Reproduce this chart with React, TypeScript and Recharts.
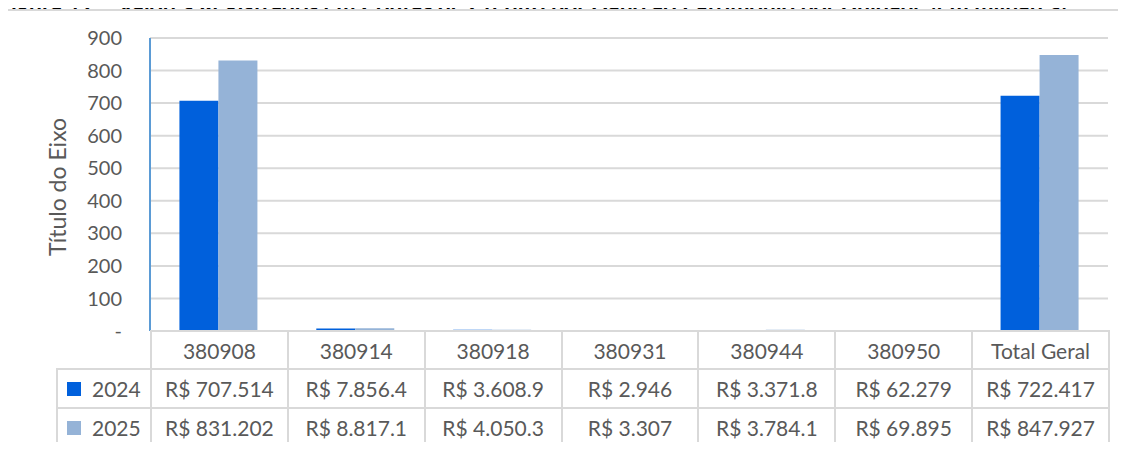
import React from "react";
import {
  BarChart,
  Bar,
  XAxis,
  YAxis,
  CartesianGrid,
} from "recharts";

const units = ["380908", "380914", "380918", "380931", "380944", "380950", "Total Geral"];

// valores em milhares de R$
const v2024 = [707.514, 7.8564, 3.6089, 0.002946, 3.3718, 0.062279, 722.417];
const v2025 = [831.202, 8.8171, 4.0503, 0.003307, 3.7841, 0.069895, 847.927];

const labels2024 = ["R$ 707.514", "R$ 7.856.4", "R$ 3.608.9", "R$ 2.946", "R$ 3.371.8", "R$ 62.279", "R$ 722.417"];
const labels2025 = ["R$ 831.202", "R$ 8.817.1", "R$ 4.050.3", "R$ 3.307", "R$ 3.784.1", "R$ 69.895", "R$ 847.927"];

const yTicks = [0, 100, 200, 300, 400, 500, 600, 700, 800, 900];

const C2024 = "#0060DC";
const C2025 = "#95B3D7";
const GRID = "#D9D9D9";
const TEXT = "#595959";
const FONT = "Lato, 'Open Sans', sans-serif";

const data = units.map((name, i) => ({ name, a2024: v2024[i], a2025: v2025[i] }));

const PLOT_L = 150;
const PLOT_R = 1108;
const COL_W = (PLOT_R - PLOT_L) / units.length;

const cell: React.CSSProperties = {
  position: "absolute",
  boxSizing: "border-box",
  border: `2px solid ${GRID}`,
  display: "flex",
  alignItems: "center",
  justifyContent: "center",
  fontFamily: FONT,
  fontSize: 21,
  color: TEXT,
  background: "#fff",
};

export default function App() {
  const rows = [
    { year: "2024", color: C2024, labels: labels2024, top: 368 },
    { year: "2025", color: C2025, labels: labels2025, top: 407 },
  ];
  return (
    <div style={{ position: "relative", width: 1126, height: 450, margin: -8, overflow: "hidden", background: "#fff" }}>
      {/* título cortado no topo */}
      <div
        style={{
          position: "absolute",
          left: -2,
          top: -6,
          lineHeight: "22px",
          whiteSpace: "nowrap",
          fontFamily: FONT,
          fontWeight: 700,
          fontSize: 23,
          color: "#000",
        }}
      >
        Figura 12 – Valores Registrados em Contas de Crédito por Dano ao Patrimônio por Unidade (em milhares)
      </div>
      <div
        style={{
          position: "absolute",
          left: 6,
          top: 9,
          width: 1140,
          height: 460,
          border: `2px solid ${GRID}`,
          boxSizing: "border-box",
          background: "#fff",
        }}
      />
      <div style={{ position: "absolute", left: 0, top: 0 }}>
        <BarChart
          width={1126}
          height={450}
          data={data}
          margin={{ top: 38, right: 1126 - PLOT_R, bottom: 450 - 331, left: 50 }}
          barCategoryGap="21.5%"
          barGap={0}
        >
          <CartesianGrid vertical={false} stroke={GRID} strokeWidth={2} />
          <XAxis dataKey="name" hide />
          <YAxis
            width={100}
            domain={[0, 900]}
            ticks={yTicks}
            interval={0}
            tickLine={false}
            axisLine={{ stroke: "#5B9BD5", strokeWidth: 2 }}
            tickFormatter={(v: number) => (v === 0 ? "-" : String(v))}
            tick={{ fill: TEXT, fontSize: 20, fontFamily: FONT }}
            tickMargin={22}
          />
          <Bar dataKey="a2024" fill={C2024} isAnimationActive={false} />
          <Bar dataKey="a2025" fill={C2025} isAnimationActive={false} />
        </BarChart>
      </div>
      {/* título do eixo */}
      <div
        style={{
          position: "absolute",
          left: 57,
          top: 187,
          transform: "translate(-50%, -50%) rotate(-90deg)",
          whiteSpace: "nowrap",
          fontFamily: FONT,
          fontSize: 23,
          color: TEXT,
        }}
      >
        Título do Eixo
      </div>
      {/* tabela de dados */}
      {units.map((u, i) => (
        <div key={u} style={{ ...cell, left: PLOT_L + i * COL_W, top: 330, width: COL_W + 2, height: 40 }}>
          {u}
        </div>
      ))}
      {rows.map((r) => (
        <React.Fragment key={r.year}>
          <div style={{ ...cell, left: 56, top: r.top, width: PLOT_L - 56 + 2, height: 41, justifyContent: "flex-start" }}>
            <span style={{ display: "inline-block", width: 14, height: 14, background: r.color, marginLeft: 9, marginRight: 11 }} />
            {r.year}
          </div>
          {r.labels.map((t, i) => (
            <div key={i} style={{ ...cell, left: PLOT_L + i * COL_W, top: r.top, width: COL_W + 2, height: 41 }}>
              {t}
            </div>
          ))}
        </React.Fragment>
      ))}
    </div>
  );
}
